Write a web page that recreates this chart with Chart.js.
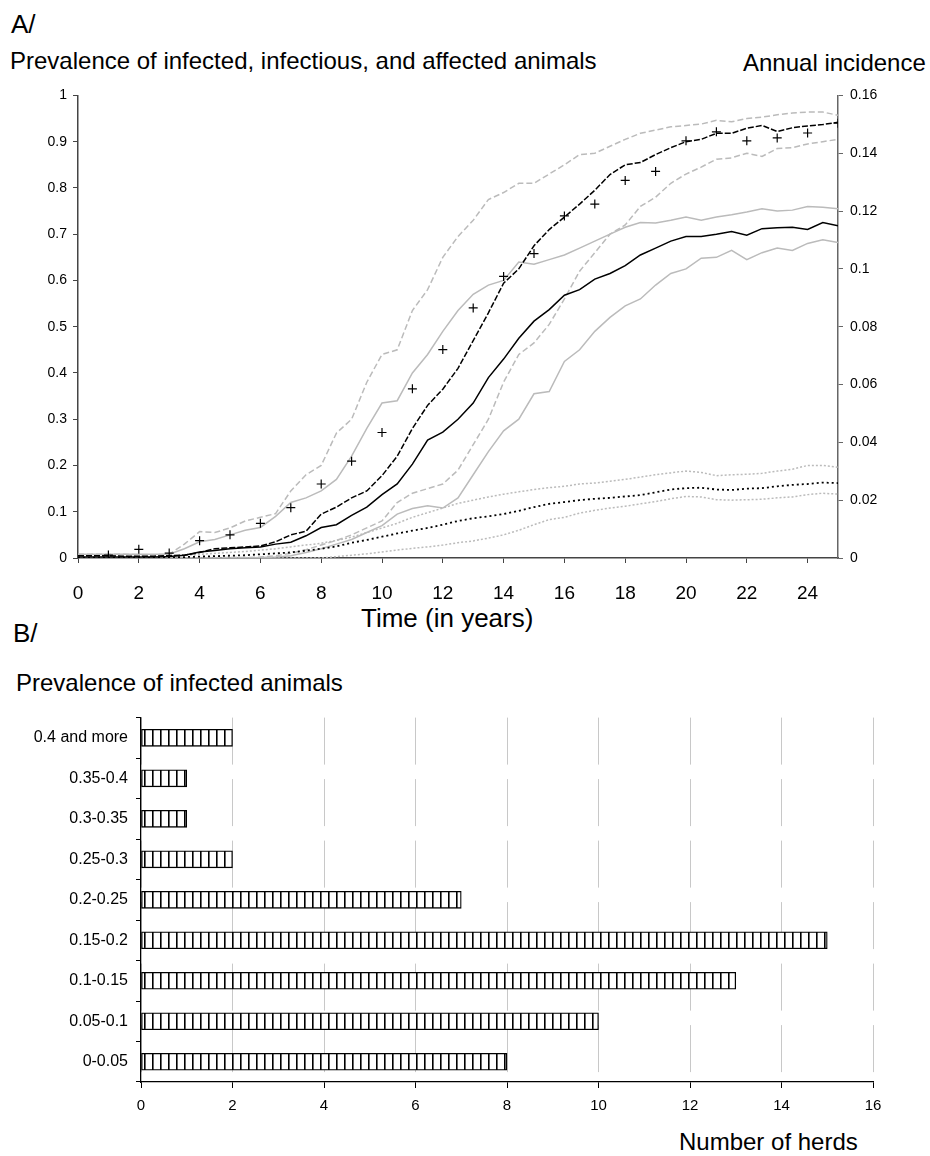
<!DOCTYPE html>
<html>
<head>
<meta charset="utf-8">
<script src="https://cdn.jsdelivr.net/npm/chart.js@4.4.1/dist/chart.umd.min.js"></script>
<style>
  html, body { margin:0; padding:0; background:#fff; }
  body { width:930px; height:1156px; position:relative; overflow:hidden; font-family:'Liberation Sans', Arial, sans-serif; color:#000; }
  .t { position:absolute; line-height:1; white-space:nowrap; }
  canvas { position:absolute; left:0; }
</style>
</head>
<body>
<div class="t" style="left:11px;top:11px;font-size:26px;">A/</div>
<div class="t" style="left:10px;top:49px;font-size:24px;">Prevalence of infected, infectious, and affected animals</div>
<div class="t" style="left:743px;top:51px;font-size:24px;">Annual incidence</div>
<div class="t" style="left:361px;top:605px;font-size:26px;">Time (in years)</div>
<div class="t" style="left:13px;top:620px;font-size:26px;">B/</div>
<div class="t" style="left:16px;top:671px;font-size:24px;">Prevalence of infected animals</div>
<div class="t" style="left:679px;top:1130px;font-size:24px;">Number of herds</div>

<canvas id="chartA" width="930" height="560" style="top:80px;width:930px;height:560px;"></canvas>
<canvas id="chartB" width="930" height="430" style="top:700px;width:930px;height:430px;"></canvas>

<script>
// ---------- Panel A data ----------
const years = [0,0.5,1,1.5,2,2.5,3,3.5,4,4.5,5,5.5,6,6.5,7,7.5,8,8.5,9,9.5,10,10.5,11,11.5,12,12.5,13,13.5,14,14.5,15,15.5,16,16.5,17,17.5,18,18.5,19,19.5,20,20.5,21,21.5,22,22.5,23,23.5,24,24.5,25];

const infectedMedian = [0.005,0.005,0.005,0.004,0.004,0.004,0.005,0.006,0.012,0.02,0.022,0.024,0.026,0.035,0.05,0.058,0.095,0.11,0.13,0.145,0.178,0.22,0.28,0.33,0.365,0.41,0.47,0.53,0.594,0.625,0.675,0.71,0.737,0.765,0.795,0.829,0.85,0.855,0.872,0.887,0.9,0.905,0.918,0.918,0.929,0.935,0.922,0.93,0.934,0.937,0.942];
const infectedUpper = [0.008,0.008,0.008,0.008,0.007,0.007,0.008,0.03,0.057,0.055,0.065,0.08,0.088,0.096,0.145,0.18,0.2,0.27,0.3,0.38,0.44,0.45,0.535,0.58,0.65,0.695,0.73,0.775,0.79,0.81,0.81,0.83,0.85,0.872,0.875,0.89,0.905,0.918,0.925,0.932,0.935,0.938,0.946,0.943,0.95,0.953,0.958,0.962,0.964,0.964,0.957];
const infectedLower = [0,0,0,0,0,0,0,0,0,0,0.001,0.001,0.002,0.005,0.01,0.018,0.028,0.038,0.05,0.065,0.08,0.12,0.14,0.15,0.16,0.19,0.245,0.3,0.38,0.44,0.465,0.505,0.56,0.62,0.66,0.7,0.72,0.76,0.78,0.81,0.83,0.845,0.862,0.865,0.875,0.868,0.885,0.887,0.895,0.9,0.905];

const infectiousMedian = [0.002,0.002,0.002,0.002,0.002,0.002,0.003,0.006,0.013,0.016,0.02,0.022,0.024,0.03,0.034,0.048,0.066,0.072,0.092,0.11,0.137,0.16,0.203,0.255,0.272,0.3,0.335,0.39,0.43,0.475,0.512,0.537,0.568,0.58,0.603,0.615,0.632,0.655,0.67,0.685,0.695,0.695,0.7,0.706,0.698,0.712,0.714,0.715,0.71,0.725,0.718];
const infectiousUpper = [0.008,0.008,0.008,0.008,0.008,0.008,0.008,0.02,0.035,0.04,0.05,0.06,0.066,0.09,0.12,0.13,0.145,0.17,0.22,0.28,0.335,0.34,0.4,0.44,0.49,0.535,0.57,0.59,0.6,0.64,0.635,0.645,0.655,0.67,0.685,0.7,0.715,0.725,0.724,0.73,0.737,0.73,0.737,0.742,0.748,0.755,0.75,0.752,0.76,0.758,0.755];
const infectiousLower = [0,0,0,0,0,0,0,0,0,0,0,0,0.001,0.002,0.005,0.012,0.02,0.03,0.04,0.055,0.07,0.095,0.107,0.113,0.108,0.13,0.18,0.23,0.275,0.3,0.355,0.36,0.425,0.45,0.49,0.52,0.545,0.56,0.59,0.615,0.625,0.648,0.65,0.665,0.645,0.66,0.67,0.665,0.68,0.688,0.682];

const affectedMedian = [0.001,0.001,0.001,0.001,0.001,0.001,0.001,0.002,0.003,0.004,0.005,0.006,0.008,0.01,0.012,0.016,0.02,0.025,0.033,0.039,0.046,0.053,0.059,0.065,0.072,0.08,0.086,0.09,0.095,0.102,0.11,0.117,0.121,0.125,0.128,0.13,0.133,0.136,0.142,0.148,0.151,0.152,0.148,0.147,0.15,0.151,0.155,0.158,0.16,0.163,0.162];
const affectedUpper = [0.004,0.004,0.004,0.004,0.004,0.004,0.004,0.006,0.008,0.01,0.012,0.014,0.017,0.02,0.024,0.028,0.032,0.038,0.045,0.055,0.065,0.075,0.088,0.098,0.108,0.118,0.125,0.132,0.138,0.143,0.148,0.152,0.155,0.16,0.162,0.166,0.17,0.175,0.18,0.184,0.188,0.185,0.178,0.18,0.181,0.183,0.188,0.192,0.2,0.2,0.196];
const affectedLower = [0,0,0,0,0,0,0,0,0,0,0,0,0,0,0,0,0,0.003,0.006,0.009,0.013,0.017,0.021,0.024,0.028,0.033,0.037,0.043,0.05,0.06,0.072,0.083,0.088,0.097,0.103,0.108,0.112,0.117,0.122,0.128,0.133,0.132,0.126,0.125,0.126,0.127,0.13,0.132,0.137,0.14,0.138];

const incidenceYears = [1,2,3,4,5,6,7,8,9,10,11,12,13,14,15,16,17,18,19,20,21,22,23,24,25];
const annualIncidence = [0.001,0.003,0.0017,0.006,0.008,0.012,0.0174,0.0256,0.0335,0.0434,0.0585,0.0721,0.0865,0.0974,0.1053,0.1183,0.1224,0.1306,0.1337,0.1443,0.1474,0.1443,0.1453,0.147,0.1504];

// ---------- Panel B data ----------
const prevalenceClasses = ['0.4 and more','0.35-0.4','0.3-0.35','0.25-0.3','0.2-0.25','0.15-0.2','0.1-0.15','0.05-0.1','0-0.05'];
const herdCounts = [2,1,1,2,7,15,13,10,8];

// ---------- helpers ----------
Chart.defaults.font.family = "'Liberation Sans', Arial, sans-serif";
Chart.defaults.color = '#000';
const pts = (xs, ys) => xs.map((x, i) => ({x: x, y: ys[i]}));
const fmt = v => String(Number(v.toFixed(3)));
const GRAY = '#bbbbbb';
const line = (vals, color, dash, width) => ({
  type: 'line', data: pts(years, vals), borderColor: color, borderWidth: width,
  borderDash: dash, pointRadius: 0, fill: false, tension: 0, yAxisID: 'y'
});

new Chart(document.getElementById('chartA'), {
  type: 'line',
  data: {
    datasets: [
      { type: 'line', data: pts(incidenceYears, annualIncidence), showLine: false,
        pointStyle: 'cross', pointRadius: 4.5, pointBorderWidth: 1.2,
        borderColor: '#000', backgroundColor: '#000', yAxisID: 'y2' },
      line(infectedMedian, '#000', [6, 2], 1.5),
      line(infectiousMedian, '#000', [], 1.5),
      line(affectedMedian, '#000', [2, 3], 1.8),
      line(infectedUpper, GRAY, [6, 3], 1.5),
      line(infectedLower, GRAY, [6, 3], 1.5),
      line(infectiousUpper, GRAY, [], 1.5),
      line(infectiousLower, GRAY, [], 1.5),
      line(affectedUpper, GRAY, [2, 2], 1.5),
      line(affectedLower, GRAY, [2, 2], 1.5)
    ]
  },
  options: {
    responsive: false, animation: false,
    layout: { padding: { top: 10, left: 0, right: 0, bottom: 0 } },
    plugins: { legend: { display: false }, tooltip: { enabled: false } },
    scales: {
      x: {
        type: 'linear', min: 0, max: 25,
        ticks: { stepSize: 2, includeBounds: false, font: { size: 19 }, color: '#000', padding: 19, maxRotation: 0, autoSkip: false, callback: fmt },
        grid: { drawOnChartArea: false, tickLength: 5, color: '#444' },
        border: { color: '#444', width: 1.5 },
        afterFit: s => { s.height = 82; }
      },
      y: {
        position: 'left', min: 0, max: 1,
        ticks: { stepSize: 0.1, font: { size: 14 }, color: '#000', padding: 6, callback: fmt },
        grid: { drawOnChartArea: false, tickLength: 5, color: '#444' },
        border: { color: '#444', width: 1.5 },
        afterFit: s => { s.width = 78; }
      },
      y2: {
        position: 'right', min: 0, max: 0.16,
        ticks: { stepSize: 0.02, font: { size: 14 }, color: '#000', padding: 7, callback: fmt },
        grid: { drawOnChartArea: false, tickLength: 5, color: '#666' },
        border: { color: '#666', width: 1.5 },
        afterFit: s => { s.width = 92; }
      }
    }
  }
});

// hatch pattern for bars
const pc = document.createElement('canvas');
pc.width = 8; pc.height = 8;
const pg = pc.getContext('2d');
pg.fillStyle = '#fff'; pg.fillRect(0, 0, 8, 8);
pg.fillStyle = '#000'; pg.fillRect(0, 0, 1.6, 8);
const ctxB = document.getElementById('chartB').getContext('2d');
const hatch = ctxB.createPattern(pc, 'repeat');

new Chart(ctxB, {
  type: 'bar',
  data: {
    labels: prevalenceClasses,
    datasets: [{ data: herdCounts, backgroundColor: hatch, borderColor: '#000', borderWidth: 1.3, borderSkipped: false, barThickness: 17 }]
  },
  options: {
    indexAxis: 'y', responsive: false, animation: false,
    layout: { padding: { top: 13, right: 57, left: 0, bottom: 0 } },
    plugins: { legend: { display: false }, tooltip: { enabled: false } },
    scales: {
      x: {
        min: 0, max: 16,
        ticks: { stepSize: 2, font: { size: 15 }, color: '#000', padding: 9 },
        grid: { color: '#c8c8c8', tickColor: '#000', tickLength: 6, lineWidth: 1, tickBorderDash: [] },
        border: { color: '#000', width: 1.3, dash: [47, 14.5], dashOffset: 0 },
        afterFit: s => { s.height = 48; }
      },
      y: {
        ticks: { font: { size: 16 }, color: '#000', padding: 8 },
        grid: { drawOnChartArea: false, tickLength: 5, color: '#000', offset: true },
        border: { color: '#000', width: 1.3 },
        afterFit: s => { s.width = 141; }
      }
    }
  }
});
</script>
</body>
</html>
